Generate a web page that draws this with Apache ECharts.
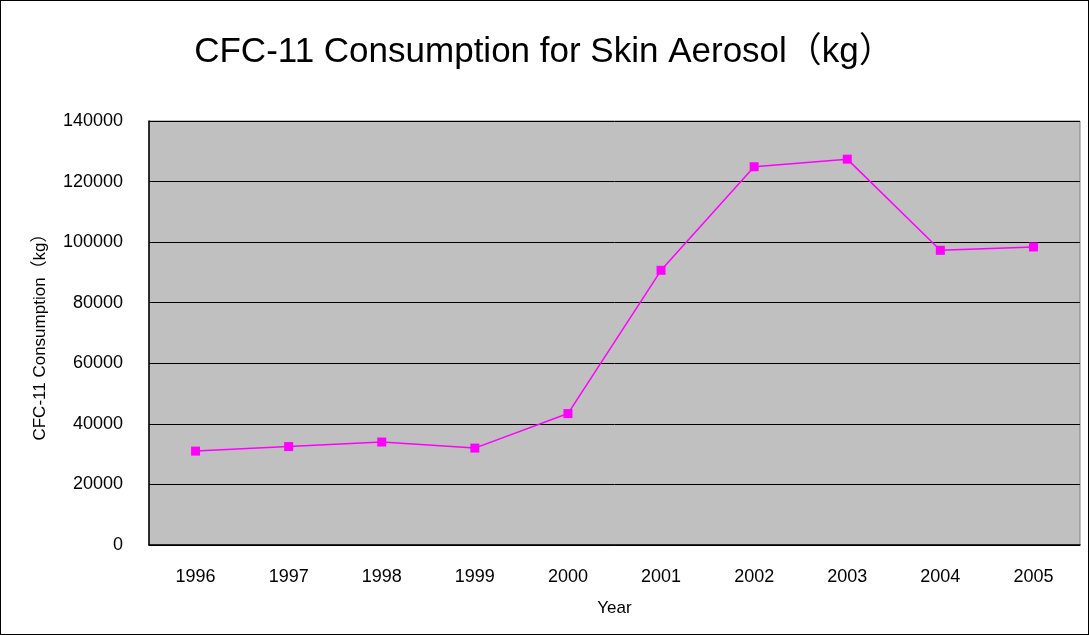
<!DOCTYPE html>
<html>
<head>
<meta charset="utf-8">
<script src="https://cdn.jsdelivr.net/npm/echarts@6/dist/echarts.min.js"></script>
<style>
    html, body { margin: 0; padding: 0; background: #fff; }
    #chart {
        width: 1087px;
        height: 633px;
        border: 1px solid #000;
    }
</style>
</head>
<body>
<div id="chart"></div>
<script>
    // 数据
    const years = ['1996', '1997', '1998', '1999', '2000', '2001', '2002', '2003', '2004', '2005'];
    const consumption = [31000, 32500, 34000, 32000, 43400, 90700, 124900, 127400, 97300, 98400];

    const font = '"Liberation Sans", Arial, "Noto Sans CJK SC", sans-serif';

    let myChart = echarts.init(document.getElementById('chart'));
    myChart.setOption({
        animation: false,
        title: {
            text: 'CFC-11 Consumption for Skin Aerosol（kg）',
            left: 538,
            textAlign: 'center',
            top: 29,
            textStyle: {
                fontFamily: font,
                fontSize: 35,
                fontWeight: 'normal',
                color: '#000'
            }
        },
        grid: {
            left: 148,
            right: 8,
            top: 120,
            bottom: 89,
            show: true,
            backgroundColor: '#c0c0c0',
            borderColor: '#808080',
            borderWidth: 1
        },
        xAxis: {
            type: 'category',
            data: years,
            name: 'Year',
            nameLocation: 'middle',
            nameGap: 55,
            nameTextStyle: { fontFamily: font, fontSize: 17, color: '#000' },
            axisLine: { lineStyle: { color: '#000', width: 1.5 } },
            axisTick: { inside: true, length: 6, lineStyle: { color: '#000' } },
            axisLabel: { margin: 23, fontFamily: font, fontSize: 18, color: '#000' }
        },
        yAxis: {
            type: 'value',
            min: 0,
            max: 140000,
            interval: 20000,
            name: 'CFC-11 Consumption（kg）',
            nameLocation: 'middle',
            nameGap: 100,
            nameTextStyle: { fontFamily: font, fontSize: 17, color: '#000' },
            axisLine: { show: true, lineStyle: { color: '#000', width: 1.5 } },
            axisTick: { show: true, inside: true, length: 6, lineStyle: { color: '#000' } },
            axisLabel: {
                margin: 26,
                fontFamily: font,
                fontSize: 18,
                color: '#000',
                formatter: v => String(v)
            },
            splitLine: { lineStyle: { color: '#000', width: 1 } }
        },
        series: [
            {
                name: 'CFC-11',
                type: 'line',
                data: consumption,
                symbol: 'rect',
                symbolSize: 9,
                itemStyle: { color: '#ff00ff' },
                lineStyle: { color: '#ff00ff', width: 1.5 }
            }
        ]
    });
</script>
</body>
</html>
